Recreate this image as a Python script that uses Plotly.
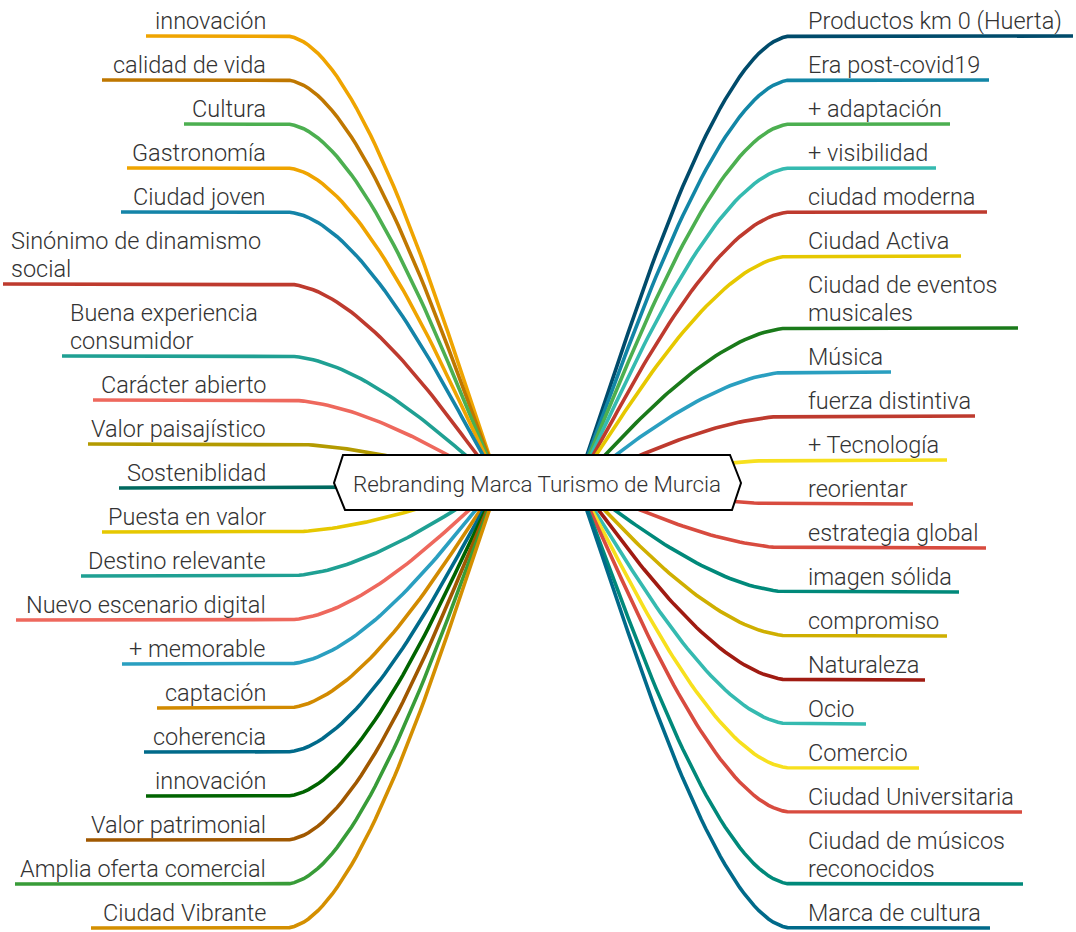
import plotly.graph_objects as go
import numpy as np

# ---------------- data ----------------
center_label = "Rebranding Marca Turismo de Murcia"

left_labels = [
    "innovación", "calidad de vida", "Cultura", "Gastronomía", "Ciudad joven",
    "Sinónimo de dinamismo<br>social", "Buena experiencia<br>consumidor",
    "Carácter abierto", "Valor paisajístico", "Sosteniblidad", "Puesta en valor",
    "Destino relevante", "Nuevo escenario digital", "+ memorable", "captación",
    "coherencia", "innovación", "Valor patrimonial", "Amplia oferta comercial",
    "Ciudad Vibrante",
]
left_colors = [
    "#EFA400", "#BF7700", "#4CAF50", "#EFA400", "#1484A8",
    "#BE3A2E", "#1FA093", "#EE685D", "#B39A00", "#00695F", "#E6C800",
    "#1FA093", "#EE685D", "#2A9FC0", "#D28A00",
    "#006A8A", "#006400", "#A05800", "#389C38", "#D48F00",
]

right_labels = [
    "Productos km 0 (Huerta)", "Era post-covid19", "+ adaptación", "+ visibilidad",
    "ciudad moderna", "Ciudad Activa", "Ciudad de eventos<br>musicales", "Música",
    "fuerza distintiva", "+ Tecnología", "reorientar", "estrategia global",
    "imagen sólida", "compromiso", "Naturaleza", "Ocio", "Comercio",
    "Ciudad Universitaria", "Ciudad de músicos<br>reconocidos", "Marca de cultura",
]
right_colors = [
    "#004B6B", "#1286A6", "#4CAF50", "#35BAB0",
    "#BE3A2E", "#E6C800", "#1A7A1A", "#2A9FC0",
    "#BE3A2E", "#F7E01E", "#D84B3F", "#D84B3F",
    "#00897A", "#CFAF00", "#A01B12", "#35BAB0", "#F7E01E",
    "#D84B3F", "#00897A", "#006A8A",
]

# ---------------- layout geometry (pixel space) ----------------
W, H = 1076, 932
cy = 483
left_join, right_join = 500, 576
left_bend, right_bend = 285, 792
left_text_x, right_text_x = 268, 806
first_y, slot, extra_line = 36, 44, 28
# outer ends of the underlines (text width + padding)
left_ext = [146, 102, 184, 127, 121, 3, 62, 93, 88, 119, 102, 81, 16, 122, 157,
            144, 146, 86, 15, 91]
right_ext = [1073, 989, 950, 936, 987, 961, 1018, 891, 975, 947, 913, 986, 959,
             947, 925, 866, 919, 1022, 1023, 990]


def slot_positions(labels):
    ys, y = [], first_y
    for i, lab in enumerate(labels):
        n = lab.count("<br>") + 1
        if i > 0:
            y += slot + extra_line * (n - 1)
        ys.append(y)
    return ys


def branch(x_out, x_bend, y0, x_join):
    t = np.linspace(0, 1, 60)
    p0 = np.array([x_bend, y0])
    p1 = np.array([x_bend + 0.42 * (x_join - x_bend), y0])
    p2 = np.array([x_join - 0.05 * (x_join - x_bend), cy])
    p3 = np.array([x_join, cy])
    pts = (np.outer((1 - t) ** 3, p0) + np.outer(3 * (1 - t) ** 2 * t, p1)
           + np.outer(3 * (1 - t) * t ** 2, p2) + np.outer(t ** 3, p3))
    xs = np.concatenate([[x_out], pts[:, 0]])
    ys = np.concatenate([[y0], pts[:, 1]])
    return xs, ys


fig = go.Figure()
annotations = []
FONT = "Roboto Light, Roboto"
TXT = "#333333"
FS = 23.5
TEXT_DY = 1


def add_label(lab, x, y, anchor):
    lines = lab.split("<br>")
    n = len(lines)
    for k, line in enumerate(lines):
        annotations.append(dict(
            x=x, y=y + TEXT_DY - extra_line * (n - 1 - k), text=line, showarrow=False,
            xanchor=anchor, yanchor="bottom", align=anchor,
            font=dict(family=FONT, size=FS, color=TXT, weight=300)))


for lab, col, ext, y in zip(left_labels, left_colors, left_ext, slot_positions(left_labels)):
    xs, ys = branch(ext, left_bend, y, left_join)
    fig.add_trace(go.Scatter(x=xs, y=ys, mode="lines", line=dict(color=col, width=3.6),
                             hoverinfo="skip", showlegend=False))
    if "<br>" in lab:
        add_label(lab, ext + 6, y, "left")
    else:
        add_label(lab, left_text_x, y, "right")

for lab, col, ext, y in zip(right_labels, right_colors, right_ext, slot_positions(right_labels)):
    xs, ys = branch(ext, right_bend, y, right_join)
    fig.add_trace(go.Scatter(x=xs, y=ys, mode="lines", line=dict(color=col, width=3.6),
                             hoverinfo="skip", showlegend=False))
    add_label(lab, right_text_x, y, "left")

# center node
box = "M 343,455 L 730,455 L 741,483 L 732,510 L 345,510 L 334,483 Z"
fig.add_shape(type="path", path=box, fillcolor="white", line=dict(color="black", width=2),
              xref="x", yref="y", layer="above")
annotations.append(dict(x=537, y=484, text=center_label, showarrow=False,
                        xanchor="center", yanchor="middle",
                        font=dict(family=FONT, size=22.4, color=TXT, weight=300)))

fig.update_layout(
    width=W, height=H, margin=dict(l=0, r=0, t=0, b=0),
    paper_bgcolor="white", plot_bgcolor="white",
    xaxis=dict(range=[0, W], visible=False, fixedrange=True),
    yaxis=dict(range=[H, 0], visible=False, fixedrange=True),
    annotations=annotations,
)

fig.write_html("out.html", config={"displayModeBar": False},
               post_script="document.body.style.margin='0';document.body.style.overflow='hidden';")
